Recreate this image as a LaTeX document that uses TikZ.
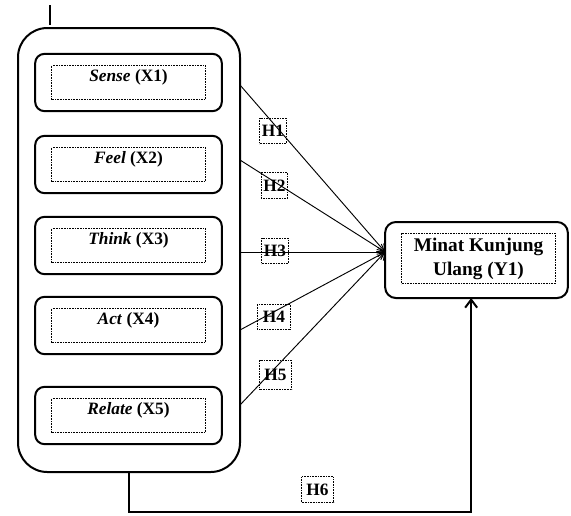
\documentclass[tikz,border=0pt]{standalone}
\usepackage{fontspec}
\setmainfont{Liberation Serif}
\usetikzlibrary{arrows.meta}

\begin{document}
\begin{tikzpicture}[x=0.75pt,y=-0.75pt,inner sep=0pt,outer sep=0pt,
outerblock/.style={draw,rectangle,rounded corners=22pt,minimum width=166.5pt,minimum height=333pt,line width=1.5pt},
varblock/.style={draw,rectangle,rounded corners=7pt,minimum width=140pt,minimum height=43pt,line width=1.5pt},
yblock/.style={draw,rectangle,rounded corners=8pt,minimum width=137pt,minimum height=57pt,line width=1.5pt},
dotbox/.style={draw,line width=0.6pt,dash pattern=on 0.6pt off 0.6pt,font=\fontsize{13}{15}\selectfont\bfseries},
txtbox/.style={dotbox,inner ysep=2pt,minimum width=115pt,text height=10pt,text depth=11.5pt},
ytxtbox/.style={dotbox,align=center,minimum width=115pt,minimum height=38pt,font=\fontsize{14.5}{18}\selectfont\bfseries},
hbox/.style={dotbox,inner sep=1.5pt,minimum height=19pt,minimum width=20pt},
hline/.style={line width=0.7pt,-{Straight Barb[length=5pt,width=7pt]}}]

\useasboundingbox (0,0) rectangle (571,515);

\draw (129,250) node[outerblock] (outer) {};
\draw (128.5,82.5) node[varblock] (sense) {};
\draw (128.5,164.5) node[varblock] (feel) {};
\draw (128.5,245.5) node[varblock] (think) {};
\draw (128.5,325.5) node[varblock] (act) {};
\draw (128.5,415.5) node[varblock] (relate) {};

\draw (sense.center) node[txtbox] (sensetxt) {\textit{Sense} (X1)};
\draw (feel.center) node[txtbox] (feeltxt) {\textit{Feel} (X2)};
\draw (think.center) node[txtbox] (thinktxt) {\textit{Think} (X3)};
\draw (act.center) node[txtbox] (acttxt) {\textit{Act} (X4)};
\draw (relate.center) node[txtbox] (relatetxt) {\textit{Relate} (X5)};

\draw (476.5,260) node[yblock] (y1) {};
\draw (478.5,258.5) node[ytxtbox] (y1txt) {Minat Kunjung\\Ulang (Y1)};

\coordinate (hub) at ([yshift=6pt]y1.west);
\coordinate (cut) at (50,5);
\draw[line width=1.5pt] (cut) -- ++(0,20);

\draw[hline] (outer.east |- 0,85) -- (hub);
\draw[hline] (outer.east |- 0,160) -- (hub);
\draw[hline] (outer.east |- hub) -- (hub);
\draw[hline] (outer.east |- 0,330) -- (hub);
\draw[hline] (outer.east |- 0,405) -- (hub);
\draw[line width=1.5pt,-{Straight Barb[length=6pt,width=9pt]}] (outer.south) -- ++(0,40) -| ([xshift=-4pt]y1.south);

\draw (273,131) node[hbox] (h1) {H1};
\draw (274.5,185.5) node[hbox] (h2) {H2};
\draw (275,251) node[hbox] (h3) {H3};
\draw (274,317) node[hbox,minimum width=25pt] (h4) {H4};
\draw (275.5,375) node[hbox,minimum width=24pt,minimum height=22pt] (h5) {H5};
\draw (317.5,489.5) node[hbox,minimum width=24pt] (h6) {H6};
\end{tikzpicture}
\end{document}
